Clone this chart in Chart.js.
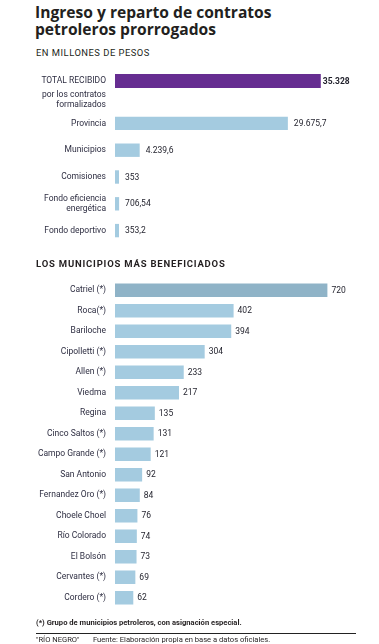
<!DOCTYPE html>
<html><head><meta charset="utf-8">
<script src="https://cdn.jsdelivr.net/npm/chart.js@4"></script>
<style>
html,body{margin:0;padding:0;background:#fff;}
body{width:379px;height:644px;position:relative;overflow:hidden;font-family:Roboto,"Liberation Sans",sans-serif;color:#231f20;}
.abs{position:absolute;white-space:nowrap;}
#title{left:35px;top:4px;font-family:"Open Sans",Roboto,sans-serif;font-size:15.6px;font-weight:bold;line-height:17px;letter-spacing:0px;}
#sub{left:36px;top:47px;font-size:9.4px;letter-spacing:0.5px;}
#totsub{right:273px;top:89px;font-size:8.5px;line-height:10px;text-align:right;color:#2e2e42;}
#head{left:36px;top:258px;font-size:9.5px;font-weight:bold;letter-spacing:0.8px;}
#note{left:36px;top:618px;font-size:7.6px;font-weight:bold;}
#rule{left:36px;top:633px;width:320px;height:1px;background:#222;}
#src1{left:36px;top:635px;font-size:7.6px;}
#src2{left:93px;top:635px;font-size:7.6px;}
canvas{position:absolute;left:0;}
</style></head>
<body>
<div id="title" class="abs">Ingreso y reparto de contratos<br>petroleros prorrogados</div>
<div id="sub" class="abs">EN MILLONES DE PESOS</div>
<canvas id="c1" width="379" height="28" style="top:67px"></canvas>
<div id="totsub" class="abs">por los contratos<br>formalizados</div>
<canvas id="c2" width="379" height="134" style="top:110px"></canvas>
<div id="head" class="abs">LOS MUNICIPIOS MÁS BENEFICIADOS</div>
<canvas id="c3" width="379" height="328" style="top:280px"></canvas>
<div id="note" class="abs">(*) Grupo de municipios petroleros, con asignación especial.</div>
<div id="rule" class="abs"></div>
<div id="src1" class="abs">"RÍO NEGRO"</div>
<div id="src2" class="abs">Fuente: Elaboración propia en base a datos oficiales.</div>
<script>
// ---- data ----
const totalLabels = ['TOTAL RECIBIDO'];
const totalValues = [35328];
const repartoLabels = ['Provincia', 'Municipios', 'Comisiones', ['Fondo eficiencia', 'energética'], 'Fondo deportivo'];
const repartoValues = [29675.7, 4239.6, 353, 706.54, 353.2];
const municipioLabels = ['Catriel (*)', 'Roca(*)', 'Bariloche', 'Cipolletti (*)', 'Allen (*)', 'Viedma', 'Regina', 'Cinco Saltos (*)', 'Campo Grande (*)', 'San Antonio', 'Fernandez Oro (*)', 'Choele Choel', 'Río Colorado', 'El Bolsón', 'Cervantes (*)', 'Cordero (*)'];
const municipioValues = [720, 402, 394, 304, 233, 217, 135, 131, 121, 92, 84, 76, 74, 73, 69, 62];

// ---- styling ----
const FONT = 'Roboto, "Liberation Sans", sans-serif';
const LABEL_COLOR = '#2e2e42';
const VALUE_COLOR = '#1f1f2a';

function fmt(v) {
  const parts = String(v).split('.');
  const intPart = parts[0].replace(/\B(?=(\d{3})+(?!\d))/g, '.');
  return parts.length > 1 ? intPart + ',' + parts[1] : intPart;
}

function valueLabels(offset, bold) {
  return {
    id: 'valueLabels',
    afterDatasetsDraw(chart) {
      const ctx = chart.ctx;
      const ds = chart.data.datasets[0];
      const meta = chart.getDatasetMeta(0);
      ctx.save();
      ctx.font = (bold ? 'bold ' : '') + '8.5px ' + FONT;
      ctx.fillStyle = VALUE_COLOR;
      ctx.textBaseline = 'middle';
      ctx.textAlign = 'left';
      meta.data.forEach((bar, i) => {
        ctx.fillText(fmt(ds.data[i]), bar.x + offset, bar.y + 0.5);
      });
      ctx.restore();
    }
  };
}

function makeChart(id, labels, values, colors, xMax, padRight, barPct, offset, bold, tickFont) {
  return new Chart(document.getElementById(id), {
    type: 'bar',
    data: { labels: labels, datasets: [{ data: values, backgroundColor: colors, borderWidth: 0, barPercentage: barPct, categoryPercentage: 1, minBarLength: 4 }] },
    options: {
      indexAxis: 'y', responsive: false, animation: false,
      layout: { autoPadding: false, padding: { left: 0, right: padRight, top: 0, bottom: 0 } },
      plugins: { legend: { display: false }, tooltip: { enabled: false } },
      scales: {
        x: { display: false, min: 0, max: xMax },
        y: {
          grid: { display: false, drawTicks: false },
          border: { display: false },
          ticks: { padding: 9, color: LABEL_COLOR, font: tickFont || { family: FONT, size: 8.5 } },
          afterFit(s) { s.width = 115; s.paddingTop = 0; s.paddingBottom = 0; }
        }
      }
    },
    plugins: [valueLabels(offset, bold)]
  });
}

makeChart('c1', totalLabels, totalValues, '#662d91', 40000, 31, 0.5, 2, true, { family: FONT, size: 8.5, lineHeight: 1 });
makeChart('c2', repartoLabels, repartoValues, '#a4cbe0', 40000, 31, 0.5, 6, false, { family: FONT, size: 8.5, lineHeight: 1.15 });
makeChart('c3', municipioLabels, municipioValues, municipioValues.map((v, i) => i === 0 ? '#8fb3c7' : '#a4cbe0'), 800, 28, 0.66, 4, false);
</script>
</body></html>
